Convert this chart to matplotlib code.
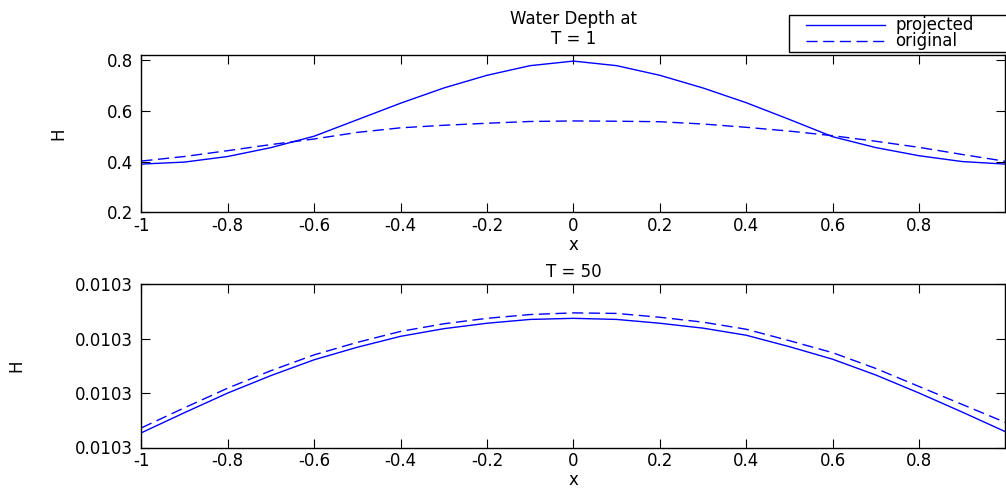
import matplotlib
matplotlib.use("Agg")
import matplotlib.pyplot as plt
from matplotlib.patches import Rectangle
import numpy as np

plt.rcParams['font.family'] = ['DejaVu Sans']

# ---- data ----
x = [-1.0, -0.9, -0.8, -0.7, -0.6, -0.5, -0.4, -0.3, -0.2, -0.1, 0.0,
     0.1, 0.2, 0.3, 0.4, 0.5, 0.6, 0.7, 0.8, 0.9, 1.0]

h1_projected = [0.390, 0.398, 0.420, 0.455, 0.500, 0.565, 0.630, 0.690, 0.740, 0.778, 0.796,
                0.778, 0.740, 0.690, 0.632, 0.566, 0.498, 0.455, 0.423, 0.400, 0.390]
h1_original = [0.402, 0.420, 0.443, 0.467, 0.489, 0.515, 0.533, 0.543, 0.551, 0.558, 0.560,
               0.559, 0.557, 0.548, 0.535, 0.520, 0.502, 0.480, 0.456, 0.428, 0.401]

# T = 50 values (H)
h50_projected = [0.01030027, 0.01030064, 0.01030100, 0.01030132, 0.01030161, 0.01030184,
                 0.01030204, 0.01030218, 0.01030228, 0.01030235, 0.01030237,
                 0.01030235, 0.01030228, 0.01030219, 0.01030206, 0.01030185,
                 0.01030162, 0.01030133, 0.01030100, 0.01030065, 0.01030029]
h50_original = [0.01030036, 0.01030073, 0.01030109, 0.01030141, 0.01030170, 0.01030193,
                0.01030213, 0.01030227, 0.01030237, 0.01030244, 0.01030247,
                0.01030246, 0.01030239, 0.01030230, 0.01030217, 0.01030196,
                0.01030174, 0.01030145, 0.01030112, 0.01030079, 0.01030046]

xticks = [-1.0, -0.8, -0.6, -0.4, -0.2, 0.0, 0.2, 0.4, 0.6, 0.8]
xticklabels = ['-1', '-0.8', '-0.6', '-0.4', '-0.2', '0', '0.2', '0.4', '0.6', '0.8']
yticks1 = [0.2, 0.4, 0.6, 0.8]
yticks50 = [0.010300, 0.010301, 0.010302, 0.010303]
yticklabels50 = ['0.0103', '0.0103', '0.0103', '0.0103']

FS = 12
W, H = 1006, 488
fig = plt.figure(figsize=(W / 100, H / 100), dpi=100)

def frac(left, top, right, bottom):
    return [left / W, 1 - bottom / H, (right - left) / W, (bottom - top) / H]

ax1 = fig.add_axes(frac(141.4, 55, 1005.4, 212.3))
ax2 = fig.add_axes(frac(141.4, 284, 1005.4, 447.5))

def style(ax):
    ax.tick_params(direction='in', length=6.5, width=0.8, top=True, right=True,
                   labelsize=FS, colors='black')
    ax.tick_params(axis='x', pad=3.5)
    ax.tick_params(axis='y', pad=6)
    for s in ax.spines.values():
        s.set_linewidth(1.0)
        s.set_color('black')
    ax.set_xlim(-1, 1)
    ax.set_xticks(xticks)
    ax.set_xticklabels(xticklabels)

l1, = ax1.plot(x, h1_projected, color='blue', lw=1.0, label='projected')
l2, = ax1.plot(x, h1_original, color='blue', lw=1.0, ls=(0, (8, 4)), label='original')
style(ax1)
ax1.set_ylim(0.2, 0.82)
ax1.set_yticks(yticks1)
ax1.set_yticklabels(['0.2', '0.4', '0.6', '0.8'])
ax1.set_xlabel('x', fontsize=FS, labelpad=0.5)
ax1.set_ylabel('H', fontsize=FS)
ax1.yaxis.set_label_coords((67 - 141.4) / 864, 0.5)
ax1.set_title('Water Depth at\nT = 1', fontsize=FS, pad=8, linespacing=1.1)

ax2.plot(x, h50_projected, color='blue', lw=1.0)
ax2.plot(x, h50_original, color='blue', lw=1.0, ls=(0, (8, 4)))
style(ax2)
ax2.set_ylim(0.010300, 0.010303)
ax2.set_yticks(yticks50)
ax2.set_yticklabels(yticklabels50)
ax2.set_xlabel('x', fontsize=FS, labelpad=0.5)
ax2.set_ylabel('H', fontsize=FS)
ax2.yaxis.set_label_coords((25 - 141.4) / 864, 0.5)
ax2.set_title('T = 50', fontsize=FS, pad=5)

# legend frame (square box, extends past the right edge as in the reference)
fig.patches.append(Rectangle((789 / W, 1 - 52 / H), 230 / W, 37 / H,
                             transform=fig.transFigure, facecolor='white',
                             edgecolor='black', linewidth=1.0, zorder=5))
leg = fig.legend(handles=[l1, l2], loc='center left',
                 bbox_to_anchor=(806 / W, 1 - 33.5 / H), fontsize=12,
                 handlelength=4.75, handletextpad=0.6, labelspacing=-0.12,
                 borderpad=0.0, borderaxespad=0.0, frameon=False)
leg.set_zorder(6)

fig.savefig('out.png', dpi=100)
